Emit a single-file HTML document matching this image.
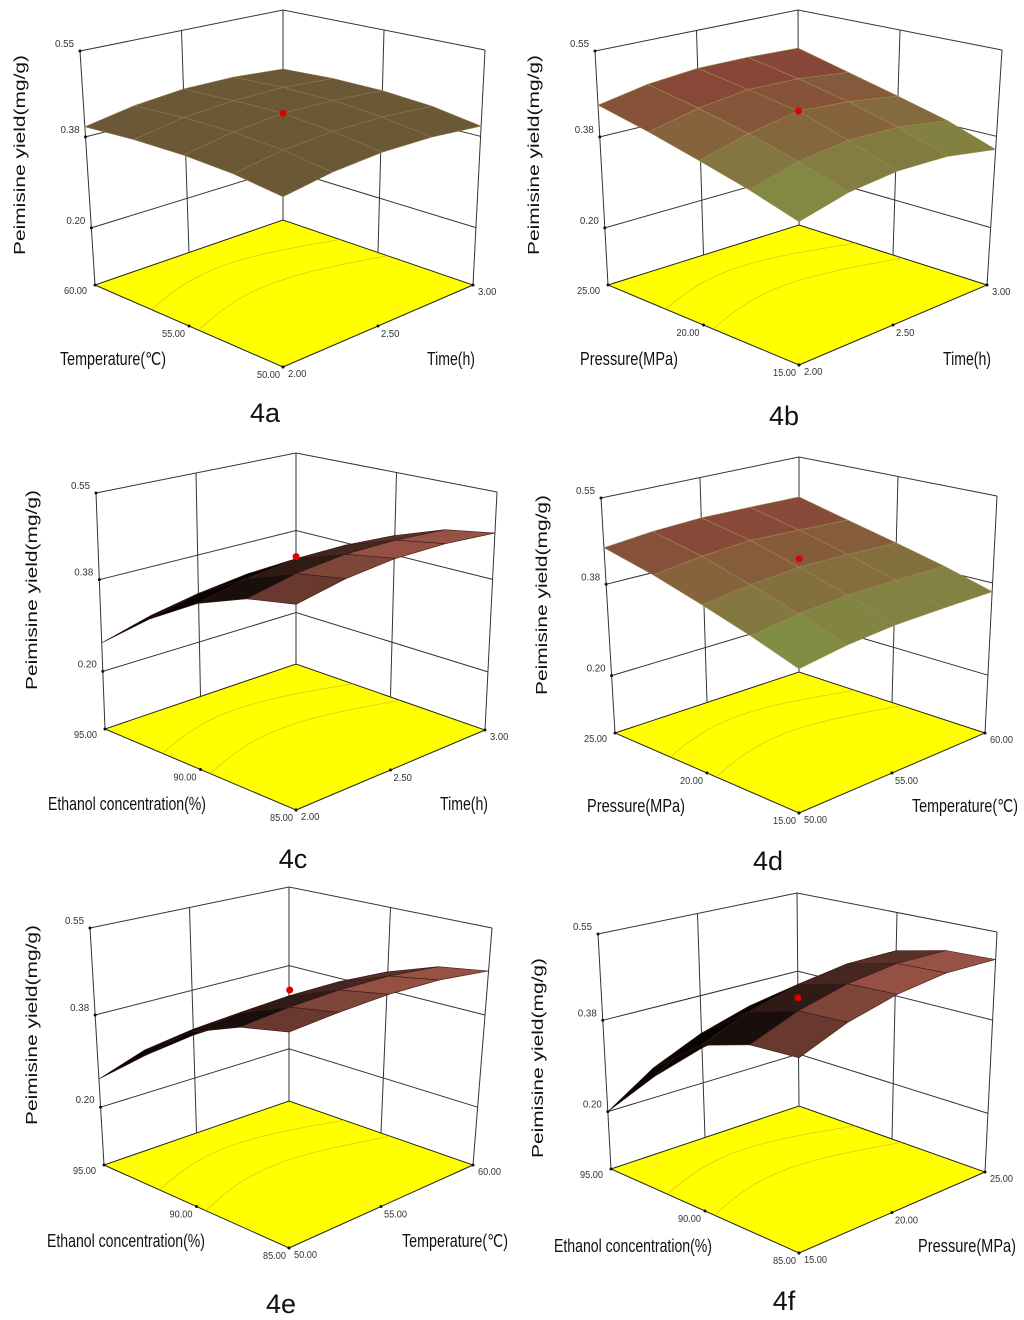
<!DOCTYPE html>
<html><head><meta charset="utf-8">
<style>
html,body{margin:0;padding:0;background:#fff;}
svg{display:block;}
.tk{font-family:"Liberation Sans Narrow","Liberation Sans",sans-serif;font-size:10px;fill:#333;}
.ti{font-family:"Liberation Sans Narrow","Liberation Sans",sans-serif;font-size:18px;fill:#111;}
.yt{font-family:"Liberation Sans",sans-serif;font-size:16px;fill:#111;}
.pl{font-family:"Liberation Sans","DejaVu Sans",sans-serif;font-size:27px;fill:#111;}
</style></head>
<body>
<svg id="fig" width="1024" height="1320" viewBox="0 0 1024 1320" xmlns="http://www.w3.org/2000/svg"></svg>
<script>
// ---- data (rows = second factor low->high, cols = first factor low->high) ----
const zTicks = ["0.55","0.38","0.20"];
const zTickVals = [0.55,0.38,0.20];
const surfA = [
 [0.390,0.405,0.412,0.410,0.400],
 [0.402,0.418,0.425,0.424,0.416],
 [0.407,0.424,0.434,0.432,0.424],
 [0.406,0.424,0.432,0.433,0.425],
 [0.400,0.418,0.428,0.428,0.420]];
const surfB = [
 [0.342,0.365,0.375,0.372,0.354],
 [0.370,0.395,0.407,0.404,0.388],
 [0.395,0.420,0.438,0.430,0.414],
 [0.420,0.442,0.455,0.452,0.440],
 [0.443,0.462,0.472,0.472,0.468]];
const surfC = [
 [0.449,0.468,0.478,0.478,0.470],
 [0.432,0.452,0.462,0.462,0.455],
 [0.395,0.416,0.428,0.428,0.420],
 [0.335,0.358,0.370,0.372,0.365],
 [0.256,0.282,0.298,0.302,0.298]];
const surfD = [
 [0.342,0.355,0.362,0.363,0.363],
 [0.372,0.385,0.392,0.392,0.390],
 [0.400,0.412,0.420,0.418,0.414],
 [0.428,0.440,0.447,0.443,0.438],
 [0.452,0.462,0.467,0.466,0.464]];
const surfE = [
 [0.467,0.475,0.480,0.478,0.466],
 [0.448,0.458,0.463,0.462,0.452],
 [0.410,0.420,0.426,0.426,0.418],
 [0.345,0.358,0.365,0.366,0.360],
 [0.255,0.275,0.288,0.292,0.290]];
const surfF = [
 [0.430,0.465,0.488,0.500,0.497],
 [0.425,0.460,0.484,0.496,0.494],
 [0.395,0.432,0.458,0.472,0.472],
 [0.320,0.360,0.388,0.404,0.406],
 [0.200,0.242,0.272,0.290,0.295]];
const optimumZ = [0.434,0.438,0.432,0.436,0.437,0.432];
const uTicks = [["2.00","2.50","3.00"],["2.00","2.50","3.00"],["2.00","2.50","3.00"],["50.00","55.00","60.00"],["50.00","55.00","60.00"],["15.00","20.00","25.00"]];
const vTicks = [["50.00","55.00","60.00"],["15.00","20.00","25.00"],["85.00","90.00","95.00"],["15.00","20.00","25.00"],["85.00","90.00","95.00"],["85.00","90.00","95.00"]];
const uTitles = ["Time(h)","Time(h)","Time(h)","Temperature(\u2103)","Temperature(\u2103)","Pressure(MPa)"];
const vTitles = ["Temperature(\u2103)","Pressure(MPa)","Ethanol concentration(%)","Pressure(MPa)","Ethanol concentration(%)","Ethanol concentration(%)"];
const panelLabels = ["4a","4b","4c","4d","4e","4f"];
const surfaces = [surfA,surfB,surfC,surfD,surfE,surfF];

// ---- layout ----
const boxes = [
 {F:[283,367],L:[95,285],R:[473,285],B:[283,220],Lt:[80,51],Rt:[485,50],Bt:[283,10],style:'olive',
  vt:[60,365],ut:[427,365],yt:[20,155],pl:[265,422]},
 {F:[799,365],L:[608,285],R:[987,285],B:[799,225],Lt:[595,51],Rt:[1002,50],Bt:[798,10],style:'grad',
  vt:[580,365],ut:[943,365],yt:[534,155],pl:[784,425]},
 {F:[296,810],L:[105,729],R:[485,730],B:[296,664],Lt:[96,493],Rt:[497,492],Bt:[296,453],style:'dark',
  vt:[48,810],ut:[440,810],yt:[32,590],pl:[293,868]},
 {F:[799,813],L:[615,733],R:[985,733],B:[799,672],Lt:[601,498],Rt:[997,496],Bt:[799,457],style:'grad',
  vt:[587,812],ut:[912,812],yt:[542,595],pl:[768,870]},
 {F:[289,1248],L:[104,1165],R:[473,1165],B:[289,1101],Lt:[90,928],Rt:[492,928],Bt:[289,887],style:'dark',
  vt:[47,1247],ut:[402,1247],yt:[32,1025],pl:[281,1313]},
 {F:[799,1253],L:[611,1169],R:[985,1172],B:[799,1106],Lt:[598,934],Rt:[997,932],Bt:[797,893],style:'dark',
  vt:[554,1252],ut:[918,1252],yt:[538,1058],pl:[784,1310]}
];
const titleLen = {"Time(h)":48,"Temperature(\u2103)":106,"Pressure(MPa)":98,"Ethanol concentration(%)":158};
const ZMIN=0.087, ZMAX=0.55;
const NS='http://www.w3.org/2000/svg';
const svg=document.getElementById('fig');

function el(tag,attrs,parent){const e=document.createElementNS(NS,tag);for(const k in attrs)e.setAttribute(k,attrs[k]);parent.appendChild(e);return e;}
function bil(A,Bp,C,D,u,v){
  return [A[0]*(1-u)*(1-v)+Bp[0]*u*(1-v)+C[0]*(1-u)*v+D[0]*u*v,
          A[1]*(1-u)*(1-v)+Bp[1]*u*(1-v)+C[1]*(1-u)*v+D[1]*u*v];}
function mkProj(b){
  const h=1.11*((b.L[1]-b.Lt[1])+(b.R[1]-b.Rt[1]))/2;
  const Ft=[b.F[0],b.F[1]-h];
  return function(u,v,z){
    const t=(z-ZMIN)/(ZMAX-ZMIN);
    const f=bil(b.F,b.R,b.L,b.B,u,v), tp=bil(Ft,b.Rt,b.Lt,b.Bt,u,v);
    return [f[0]+t*(tp[0]-f[0]), f[1]+t*(tp[1]-f[1])];
  };
}
function mix(c1,c2,k){k=Math.max(0,Math.min(1,k));return 'rgb('+c1.map((c,i)=>Math.round(c+(c2[i]-c)*k)).join(',')+')';}
function pts(a){return a.map(p=>p[0].toFixed(1)+','+p[1].toFixed(1)).join(' ');}

boxes.forEach((b,pi)=>{
  const P=mkProj(b);
  const g=el('g',{},svg);
  
  
  const floor=el('polygon',{points:pts([b.F,b.R,b.B,b.L]),fill:'#ffff00',stroke:'#222','stroke-width':1},g);
  
  
  [0.45,0.7].forEach((c)=>{
    const a=[];for(let k=0;k<=20;k++){const s=k/20;a.push(bil(b.F,b.R,b.L,b.B,s,c+0.12*Math.sin(Math.PI*s)));}
    const pl=el('polyline',{points:pts(a),fill:'none',stroke:'#d8a030','stroke-width':0.8,opacity:0.6},g);
    
    
  });
  const wall=el('g',{stroke:'#333','stroke-width':1,fill:'none'},g);
  
  
  zTickVals.forEach(z=>{
    el('polyline',{points:pts([P(0,1,z),P(1,1,z),P(1,0,z)])},wall);
  });
  [[0,1],[1,1],[1,0],[0.5,1],[1,0.5]].forEach(q=>{
    el('line',{x1:P(q[0],q[1],ZMIN)[0],y1:P(q[0],q[1],ZMIN)[1],x2:P(q[0],q[1],ZMAX)[0],y2:P(q[0],q[1],ZMAX)[1]},wall);
  });
  zTickVals.forEach((z,i)=>{
    const p=P(0,1,z);
    el('circle',{cx:p[0],cy:p[1],r:1.5,fill:'#111'},g);
    const t=el('text',{x:p[0]-6,y:p[1]-4,'text-anchor':'end',class:'tk',textLength:19,lengthAdjust:'spacingAndGlyphs'},g);
    t.textContent=zTicks[i];
    
    
  });
  [0,0.5,1].forEach((s,i)=>{
    const pu=bil(b.F,b.R,b.L,b.B,s,0);
    el('circle',{cx:pu[0],cy:pu[1],r:1.5,fill:'#111'},g);
    const su=uTicks[pi][i];
    const tu=el('text',{x:pu[0]+(i==1?3:5),y:pu[1]+(i==1?11:10),class:'tk',textLength:su.length*4.6,lengthAdjust:'spacingAndGlyphs'},g);
    tu.textContent=su;
    
    
    const pv=bil(b.F,b.R,b.L,b.B,0,s);
    el('circle',{cx:pv[0],cy:pv[1],r:1.5,fill:'#111'},g);
    const sv=vTicks[pi][i];
    const tv=el('text',{x:pv[0]-(i==1?4:(i==0?3:8)),y:pv[1]+(i==2?9:11),'text-anchor':'end',class:'tk',textLength:sv.length*4.6,lengthAdjust:'spacingAndGlyphs'},g);
    tv.textContent=sv;
    
    
  });
  const S=surfaces[pi], n=S.length-1;
  const sg=el('g',{},g);
  
  
  const cells=[];
  for(let i=0;i<n;i++)for(let j=0;j<n;j++)cells.push([i,j]);
  cells.sort((a,c)=>(c[0]+c[1])-(a[0]+a[1]));
  cells.forEach(([i,j])=>{
    const u0=j/n,u1=(j+1)/n,v0=i/n,v1=(i+1)/n;
    const q=[P(u0,v0,S[i][j]),P(u1,v0,S[i][j+1]),P(u1,v1,S[i+1][j+1]),P(u0,v1,S[i+1][j])];
    const zm=(S[i][j]+S[i][j+1]+S[i+1][j]+S[i+1][j+1])/4;
    let fill,stroke;
    if(b.style==='olive'){fill='#6a5836';stroke='#8f7a48';}
    else if(b.style==='grad'){fill=mix([128,158,70],[135,70,56],(zm-0.34)/0.12);stroke='#a08850';}
    else{const vc=(v0+v1)/2,uc=(u0+u1)/2;fill=mix([8,4,4],[150,82,68],2.2*(0.4-vc)+0.6*uc);stroke='#3a1a16';}
    const pg=el('polygon',{points:pts(q),fill:fill,stroke:stroke,'stroke-width':0.6,'stroke-linejoin':'round'},sg);
    
    
  });
  const op=P(0.5,0.5,optimumZ[pi]);
  const dot=el('circle',{cx:op[0],cy:op[1],r:3.5,fill:'#e00000'},g);
  
  
  const vt=el('text',{x:b.vt[0],y:b.vt[1],class:'ti',textLength:titleLen[vTitles[pi]],lengthAdjust:'spacingAndGlyphs'},g);vt.textContent=vTitles[pi];
  
  
  const ut=el('text',{x:b.ut[0],y:b.ut[1],class:'ti',textLength:titleLen[uTitles[pi]],lengthAdjust:'spacingAndGlyphs'},g);ut.textContent=uTitles[pi];
  
  
  const yt=el('text',{x:0,y:0,class:'yt','text-anchor':'middle',textLength:200,lengthAdjust:'spacingAndGlyphs',transform:'translate('+(b.yt[0]+5)+','+b.yt[1]+') rotate(-90)'},g);
  yt.textContent='Peimisine yield(mg/g)';
  
  
  const pl=el('text',{x:b.pl[0],y:b.pl[1],class:'pl','text-anchor':'middle'},g);pl.textContent=panelLabels[pi];
  
  
});
</script>
</body></html>
